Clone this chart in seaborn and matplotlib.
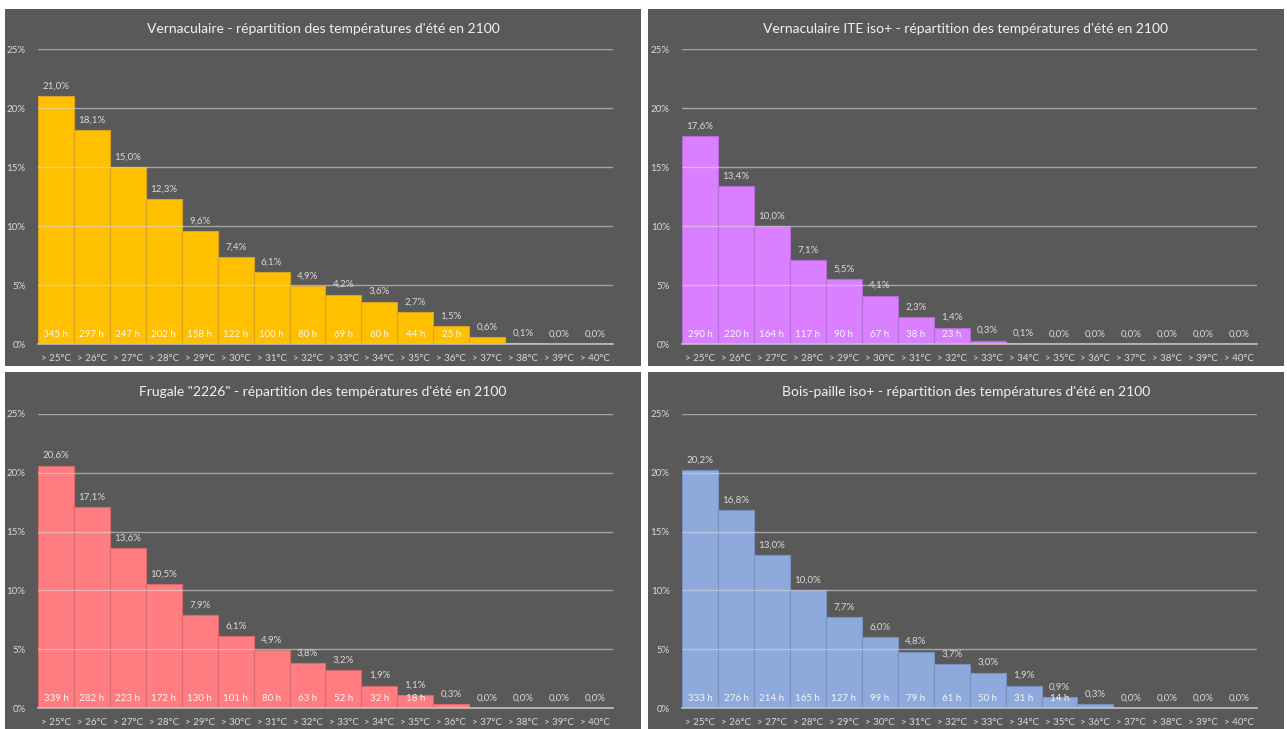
import numpy as np
import pandas as pd
import matplotlib
matplotlib.use("Agg")
import matplotlib.pyplot as plt
import matplotlib.patches as mpatches
from matplotlib.ticker import FuncFormatter
import seaborn as sns

# ── Données ─────────────────────────────────────────────
seuils = ["> 25°C", "> 26°C", "> 27°C", "> 28°C", "> 29°C", "> 30°C", "> 31°C", "> 32°C",
          "> 33°C", "> 34°C", "> 35°C", "> 36°C", "> 37°C", "> 38°C", "> 39°C", "> 40°C"]

titres = [
    "Vernaculaire - répartition des températures d'été en 2100",
    "Vernaculaire ITE iso+ - répartition des températures d'été en 2100",
    "Frugale \"2226\" - répartition des températures d'été en 2100",
    "Bois-paille iso+ - répartition des températures d'été en 2100",
]

pct_vernaculaire = [21.0, 18.1, 15.0, 12.3, 9.6, 7.4, 6.1, 4.9, 4.2, 3.6, 2.7, 1.5, 0.6, 0.1, 0.0, 0.0]
pct_ite = [17.6, 13.4, 10.0, 7.1, 5.5, 4.1, 2.3, 1.4, 0.3, 0.1, 0.0, 0.0, 0.0, 0.0, 0.0, 0.0]
pct_frugale = [20.6, 17.1, 13.6, 10.5, 7.9, 6.1, 4.9, 3.8, 3.2, 1.9, 1.1, 0.3, 0.0, 0.0, 0.0, 0.0]
pct_bois = [20.2, 16.8, 13.0, 10.0, 7.7, 6.0, 4.8, 3.7, 3.0, 1.9, 0.9, 0.3, 0.0, 0.0, 0.0, 0.0]

heures_vernaculaire = [345, 297, 247, 202, 158, 122, 100, 80, 69, 60, 44, 25]
heures_ite = [290, 220, 164, 117, 90, 67, 38, 23]
heures_frugale = [339, 282, 223, 172, 130, 101, 80, 63, 52, 32, 18]
heures_bois = [333, 276, 214, 165, 127, 99, 79, 61, 50, 31, 14]

couleurs = ["#FFC000", "#D97FFF", "#FF7C80", "#8EA9DB"]
bords = ["#D9A520", "#B46CD6", "#D86A6E", "#7891C0"]

# ── Style ───────────────────────────────────────────────
sns.set_theme(style="white")
plt.rcParams["font.family"] = ["Lato", "DejaVu Sans"]

FOND = "#595959"
TXT = "#D9D9D9"

fig = plt.figure(figsize=(12.87, 7.29), dpi=100)
fig.patch.set_facecolor("white")

# panneaux gris (x0, y0, w, h en fraction de figure)
panneaux = [(0.0039, 0.498, 0.494, 0.4897), (0.5035, 0.498, 0.494, 0.4897),
            (0.0039, 0.0, 0.494, 0.4897), (0.5035, 0.0, 0.494, 0.4897)]
axes_pos = [(0.0295, 0.528, 0.4468, 0.4047), (0.530, 0.528, 0.4468, 0.4047),
            (0.0295, 0.0288, 0.4468, 0.4035), (0.530, 0.0288, 0.4468, 0.4035)]

series = [(pct_vernaculaire, heures_vernaculaire), (pct_ite, heures_ite),
          (pct_frugale, heures_frugale), (pct_bois, heures_bois)]

for k in range(4):
    x0, y0, w, h = panneaux[k]
    fig.patches.append(mpatches.Rectangle((x0, y0), w, h, transform=fig.transFigure,
                                          facecolor=FOND, edgecolor="none", zorder=-5))
    fig.text(x0 + w / 2, y0 + h - 0.027, titres[k], ha="center", va="center",
             color="#F2F2F2", fontsize=10)

    pct, heures = series[k]
    df = pd.DataFrame({"seuil": seuils, "pct": pct})

    ax = fig.add_axes(axes_pos[k])
    ax.patch.set_alpha(0)
    sns.barplot(data=df, x="seuil", y="pct", color=couleurs[k], width=1.0,
                edgecolor=bords[k], linewidth=0.8, saturation=1, ax=ax)

    labels = [f"{v:.1f}".replace(".", ",") + "%" for v in pct]
    ax.bar_label(ax.containers[0], labels=labels, padding=4, color=TXT, fontsize=7)

    for i, hval in enumerate(heures):
        ax.text(i, 0.45, f"{hval} h", ha="center", va="bottom", color="#F7F7F7", fontsize=7)

    ax.set_xlim(-0.5, len(seuils) - 0.5)
    ax.set_ylim(0, 25)
    ax.set_yticks([0, 5, 10, 15, 20, 25])
    ax.yaxis.set_major_formatter(FuncFormatter(lambda v, p: f"{v:.0f}%"))
    ax.set_xlabel("")
    ax.set_ylabel("")
    ax.tick_params(axis="both", length=0, colors=TXT, labelsize=7)
    ax.tick_params(axis="x", pad=7)
    ax.tick_params(axis="y", pad=9)
    ax.yaxis.grid(True, color="#D9D9D9", linewidth=1, alpha=0.6)
    ax.set_axisbelow(False)
    for s in ["top", "left", "right"]:
        ax.spines[s].set_visible(False)
    ax.spines["bottom"].set_color("#BFBFBF")
    ax.spines["bottom"].set_linewidth(1.2)

fig.savefig("out.png", dpi=100, facecolor="white")
